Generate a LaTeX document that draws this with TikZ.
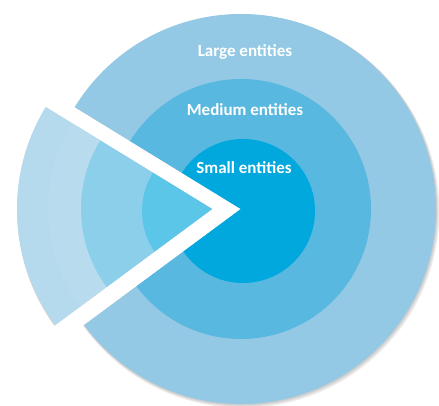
\documentclass[tikz,border=0pt]{standalone}
\usepackage{fontspec}
\setmainfont{Carlito}
\definecolor{largec}{HTML}{93C9E4}
\definecolor{mediumc}{HTML}{59B8E0}
\definecolor{smallc}{HTML}{00A8DD}
\definecolor{wlargec}{HTML}{B5DAED}
\definecolor{wbandc}{HTML}{B8DCEE}
\definecolor{wmediumc}{HTML}{8BCFEB}
\definecolor{wsmallc}{HTML}{5CC6E9}
\tikzset{
  lbl/.style={text=white, font=\fontsize{17}{19}\selectfont\bfseries, anchor=base, inner sep=0pt},
  shade1/.style={fill=black, opacity=0.07}
}
\begin{document}
\begin{tikzpicture}[x=1pt,y=1pt]
\useasboundingbox (0,0) rectangle (439,406);
% main body with the slice cut out
\begin{scope}[shift={(241,197)}]
  \clip (0,0) -- (216.5:400) -- (270:400) -- (0:400) -- (90:400) -- (148.5:400) -- cycle;
  \foreach \i in {1,2,3} {\fill[shade1] (\i*0.6,-\i*0.8) circle (195+\i*0.5);}
  \fill[largec] (0,0) circle (195);
  \fill[mediumc] (0,0) circle (130);
  \fill[smallc] (2,-2) circle (72);
\end{scope}
% exploded slice
\begin{scope}[shift={(212,197)}]
  \clip (0,0) -- (148.5:400) -- (180:400) -- (216.5:400) -- cycle;
  \foreach \i in {1,2,3} {\fill[shade1] (\i*0.6,-\i*0.8) circle (195+\i*0.5);}
  \fill[wlargec] (0,0) circle (195);
  \fill[wbandc] (0,0) circle (164);
  \fill[wmediumc] (0,0) circle (131);
  \fill[wsmallc] (2,-2) circle (72);
\end{scope}
\node[lbl] (large) at (245,349) {Large entities};
\node[lbl] (medium) at (245,290) {Medium entities};
\node[lbl] (small) at (244,232) {Small entities};
\end{tikzpicture}
\end{document}
